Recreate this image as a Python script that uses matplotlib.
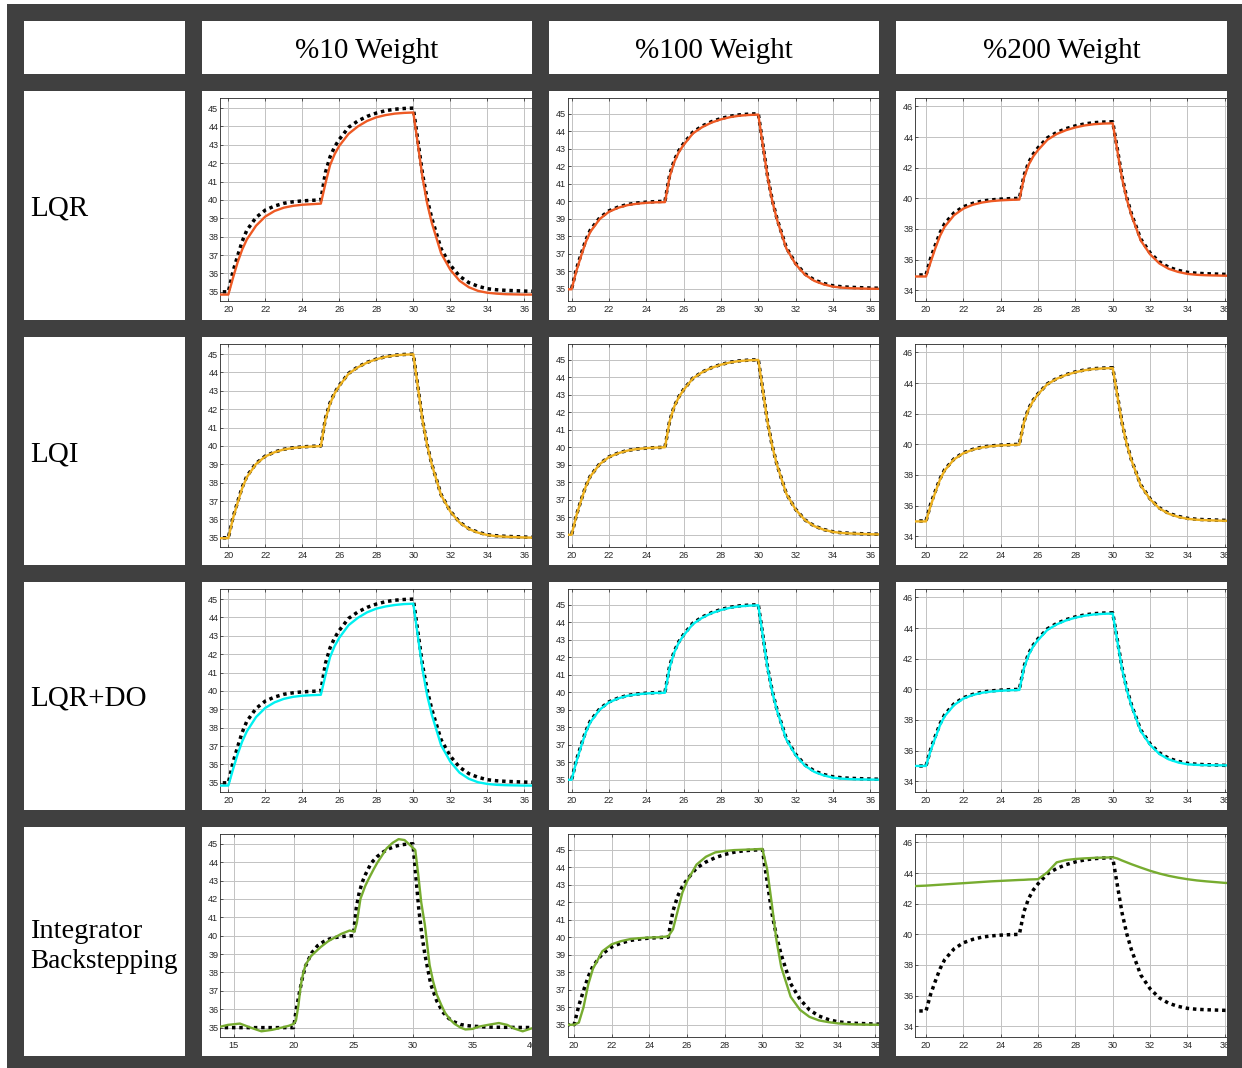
import matplotlib
matplotlib.use("Agg")
import matplotlib.pyplot as plt
from matplotlib.patches import Rectangle

# ---------------- data ----------------
col_titles = ["%10 Weight", "%100 Weight", "%200 Weight"]
row_titles = ["LQR", "LQI", "LQR+DO", "Integrator\nBackstepping"]

# common time base (s)
t = [13.0, 19.0, 20.0,
     20.25, 20.5, 20.75, 21.0, 21.5, 22.0, 22.5, 23.0, 23.5, 24.0, 24.5, 25.0,
     25.25, 25.5, 25.75, 26.0, 26.5, 27.0, 27.5, 28.0, 28.5, 29.0, 29.5, 30.0,
     30.25, 30.5, 30.75, 31.0, 31.5, 32.0, 32.5, 33.0, 33.5, 34.0, 34.5, 35.0, 36.0, 37.0,
     41.0]

# reference temperature (black dotted)
ref = [35.0, 35.0, 35.0,
       36.1, 36.95, 37.75, 38.35, 39.05, 39.45, 39.67, 39.82, 39.9, 39.95, 39.98, 40.0,
       41.5, 42.35, 42.9, 43.3, 43.95, 44.3, 44.55, 44.73, 44.86, 44.94, 44.98, 45.0,
       43.2, 41.4, 40.05, 39.0, 37.35, 36.45, 35.85, 35.5, 35.3, 35.17, 35.11, 35.08, 35.04, 35.02,
       35.0]

lqr_10 = [34.85, 34.85, 34.85,
          35.75, 36.6, 37.3, 37.85, 38.6, 39.1, 39.4, 39.58, 39.68, 39.74, 39.77, 39.8,
          40.9, 41.9, 42.5, 42.95, 43.6, 44.0, 44.3, 44.5, 44.62, 44.7, 44.74, 44.76,
          43.0, 41.2, 39.8, 38.75, 37.1, 36.2, 35.6, 35.25, 35.05, 34.95, 34.9, 34.87, 34.85, 34.85,
          34.85]
lqr_100 = [34.97, 34.97, 34.97,
           36.0, 36.85, 37.65, 38.25, 38.98, 39.4, 39.63, 39.78, 39.86, 39.91, 39.94, 39.95,
           41.4, 42.25, 42.82, 43.22, 43.88, 44.24, 44.5, 44.68, 44.81, 44.89, 44.93, 44.95,
           43.15, 41.35, 40.0, 38.95, 37.3, 36.4, 35.8, 35.45, 35.25, 35.12, 35.06, 35.03, 35.0, 34.99,
           34.99]
lqr_200 = [34.9, 34.9, 34.9,
           35.85, 36.75, 37.55, 38.15, 38.9, 39.33, 39.58, 39.73, 39.82, 39.87, 39.9, 39.92,
           41.35, 42.2, 42.75, 43.15, 43.82, 44.2, 44.45, 44.63, 44.76, 44.84, 44.88, 44.9,
           43.1, 41.3, 39.95, 38.9, 37.25, 36.35, 35.75, 35.4, 35.2, 35.07, 35.01, 34.98, 34.95, 34.94,
           34.93]

lqi_10 = [34.98, 34.98, 34.98,
          36.05, 36.9, 37.7, 38.3, 39.02, 39.43, 39.66, 39.81, 39.89, 39.94, 39.97, 39.99,
          41.45, 42.3, 42.87, 43.27, 43.93, 44.28, 44.54, 44.72, 44.85, 44.93, 44.97, 44.99,
          43.18, 41.38, 40.03, 38.98, 37.33, 36.43, 35.83, 35.48, 35.28, 35.15, 35.09, 35.06, 35.02, 35.0,
          35.0]
lqi_100 = [35.0, 35.0, 35.0,
           36.08, 36.93, 37.73, 38.33, 39.03, 39.44, 39.66, 39.81, 39.9, 39.95, 39.98, 40.0,
           41.48, 42.33, 42.88, 43.28, 43.94, 44.29, 44.54, 44.72, 44.85, 44.93, 44.97, 44.99,
           43.19, 41.39, 40.04, 38.99, 37.34, 36.44, 35.84, 35.49, 35.29, 35.16, 35.1, 35.07, 35.03, 35.01,
           35.0]
lqi_200 = [34.97, 34.97, 34.97,
           36.0, 36.88, 37.7, 38.3, 39.02, 39.42, 39.65, 39.8, 39.88, 39.93, 39.96, 39.98,
           41.45, 42.3, 42.86, 43.27, 43.93, 44.28, 44.53, 44.71, 44.84, 44.92, 44.96, 44.98,
           43.17, 41.37, 40.02, 38.97, 37.32, 36.42, 35.82, 35.47, 35.27, 35.14, 35.08, 35.05, 35.01, 34.99,
           34.98]

do_10 = [34.85, 34.85, 34.85,
         35.72, 36.55, 37.25, 37.8, 38.58, 39.08, 39.38, 39.57, 39.68, 39.74, 39.77, 39.79,
         40.85, 41.85, 42.45, 42.9, 43.58, 43.98, 44.28, 44.48, 44.6, 44.68, 44.73, 44.75,
         42.95, 41.15, 39.75, 38.7, 37.05, 36.15, 35.55, 35.22, 35.03, 34.94, 34.89, 34.87, 34.85, 34.85,
         34.85]
do_100 = [35.0, 35.0, 35.0,
          36.02, 36.88, 37.68, 38.28, 39.0, 39.42, 39.65, 39.8, 39.88, 39.93, 39.96, 39.97,
          41.42, 42.28, 42.85, 43.25, 43.9, 44.26, 44.52, 44.7, 44.83, 44.91, 44.95, 44.97,
          43.15, 41.35, 40.0, 38.95, 37.3, 36.4, 35.8, 35.45, 35.25, 35.12, 35.06, 35.03, 35.01, 35.0,
          35.0]
do_200 = [35.0, 35.0, 35.0,
          36.0, 36.85, 37.65, 38.25, 38.97, 39.4, 39.63, 39.78, 39.86, 39.91, 39.94, 39.96,
          41.4, 42.25, 42.82, 43.22, 43.88, 44.24, 44.5, 44.68, 44.81, 44.89, 44.93, 44.95,
          43.13, 41.33, 39.98, 38.93, 37.28, 36.38, 35.78, 35.43, 35.23, 35.11, 35.07, 35.05, 35.04, 35.03,
          35.03]

ib_100 = [35.0, 35.0, 35.0,
          35.12, 36.0, 37.3, 38.2, 39.2, 39.6, 39.78, 39.9, 39.95, 39.98, 40.0, 40.05,
          40.45, 41.5, 42.55, 43.2, 44.15, 44.6, 44.85, 44.93, 44.98, 45.0, 45.02, 45.05,
          43.9, 41.9, 39.8, 38.3, 36.6, 35.85, 35.45, 35.25, 35.15, 35.08, 35.04, 35.02, 35.0, 35.0,
          35.0]
ib_200 = [43.1, 43.13, 43.18,
          43.2, 43.22, 43.24, 43.26, 43.3, 43.34, 43.38, 43.42, 43.46, 43.49, 43.52, 43.55,
          43.56, 43.58, 43.59, 43.6, 44.05, 44.7, 44.85, 44.92, 44.96, 44.99, 45.01, 45.03,
          44.95, 44.82, 44.7, 44.58, 44.36, 44.15, 43.97, 43.82, 43.7, 43.6, 43.52, 43.46, 43.36, 43.3,
          43.2]

# integrator backstepping, 10 % weight: own time base
t_ib10 = [13.0, 13.8, 14.5, 15.5, 16.4, 17.3, 18.2, 19.0, 19.6, 20.0, 20.2, 20.4, 20.6, 20.8,
          21.0, 21.4, 21.8, 22.3, 22.9, 23.5, 24.0, 24.7, 25.1, 25.3, 25.6, 26.0, 26.3, 26.7,
          27.0, 27.4, 27.8, 28.3, 28.8, 29.3, 29.8, 30.2, 30.45, 30.7, 31.0, 31.4, 31.7, 32.0,
          32.4, 32.7, 33.1, 33.5, 34.0, 34.4, 35.0, 35.5, 36.3, 37.2, 37.9, 38.5, 39.2, 39.9, 41.0]
ib_10 = [34.98, 35.04, 35.15, 35.22, 35.0, 34.8, 34.88, 35.0, 35.1, 35.2, 35.4, 36.2, 37.3, 37.95,
         38.4, 38.85, 39.1, 39.4, 39.7, 39.92, 40.1, 40.28, 40.22, 40.7, 42.0, 42.7, 43.1, 43.6,
         43.95, 44.35, 44.75, 45.05, 45.25, 45.2, 44.9, 44.65, 43.3, 41.8, 40.6, 38.4, 37.5, 36.8,
         36.2, 35.8, 35.45, 35.2, 35.0, 34.9, 34.93, 35.05, 35.15, 35.25, 35.15, 34.95, 34.8, 34.95, 35.1]

xticks_main = [20, 22, 24, 26, 28, 30, 32, 34, 36]
xticks_ib10 = [15, 20, 25, 30, 35, 40]
yticks_fine = [35, 36, 37, 38, 39, 40, 41, 42, 43, 44, 45]
yticks_coarse = [34, 36, 38, 40, 42, 44, 46]

# ---------------- layout / style ----------------
W, H = 1242, 1068
DARK = "#404040"
C_LQR, C_LQI, C_DO, C_IB = "#EE5A24", "#EDB120", "#00F0F0", "#77AC30"

plt.rcParams["font.family"] = ["Liberation Sans", "DejaVu Sans"]

fig = plt.figure(figsize=(W / 100, H / 100), dpi=100)
fig.patch.set_facecolor("white")

col_l = [202, 549, 896]
col_r = [532, 879, 1227]
row_t = [91, 337, 582, 827]
row_b = [320, 565, 810, 1056]


def px_axes(x0, y0, x1, y1, **kw):
    return fig.add_axes([x0 / W, 1 - y1 / H, (x1 - x0) / W, (y1 - y0) / H], **kw)


# (row, col): time, response, colour, xmin, px-per-unit, ylim, xticks, yticks
panels = {
    (0, 0): (t, lqr_10, C_LQR, 19.55, 18.5, (34.5, 45.55), xticks_main, yticks_fine),
    (0, 1): (t, lqr_100, C_LQR, 19.79, 18.67, (34.3, 45.9), xticks_main, yticks_fine),
    (0, 2): (t, lqr_200, C_LQR, 19.41, 18.67, (33.3, 46.55), xticks_main, yticks_coarse),
    (1, 0): (t, lqi_10, C_LQI, 19.55, 18.5, (34.5, 45.55), xticks_main, yticks_fine),
    (1, 1): (t, lqi_100, C_LQI, 19.79, 18.67, (34.3, 45.9), xticks_main, yticks_fine),
    (1, 2): (t, lqi_200, C_LQI, 19.41, 18.67, (33.3, 46.55), xticks_main, yticks_coarse),
    (2, 0): (t, do_10, C_DO, 19.55, 18.5, (34.5, 45.55), xticks_main, yticks_fine),
    (2, 1): (t, do_100, C_DO, 19.79, 18.67, (34.3, 45.9), xticks_main, yticks_fine),
    (2, 2): (t, do_200, C_DO, 19.41, 18.67, (33.3, 46.55), xticks_main, yticks_coarse),
    (3, 0): (t_ib10, ib_10, C_IB, 13.83, 11.93, (34.49, 45.53), xticks_ib10, yticks_fine),
    (3, 1): (t, ib_100, C_IB, 19.66, 18.83, (34.3, 45.9), xticks_main, yticks_fine),
    (3, 2): (t, ib_200, C_IB, 19.41, 18.67, (33.3, 46.55), xticks_main, yticks_coarse),
}

left_off = [18.0, 18.7, 19.0]
for (r, c), (tt, yy, colr, xmin, scale, ylim, xt, yt) in panels.items():
    x0 = col_l[c] + left_off[c]
    x1 = col_r[c] + 8
    y0 = row_t[r] + 7
    y1 = row_t[r] + 210
    ax = px_axes(x0, y0, x1, y1)
    ax.plot(t, ref, color="black", lw=2.5, ls=(0, (1, 1.1)), dash_capstyle="butt", zorder=2)
    ax.plot(tt, yy, color=colr, lw=1.7, zorder=3, solid_joinstyle="round")
    ax.set_xlim(xmin, xmin + (x1 - x0) / scale)
    ax.set_ylim(*ylim)
    ax.set_xticks(xt)
    ax.set_yticks(yt)
    ax.grid(True, color="#c2c2c2", lw=0.7)
    ax.set_axisbelow(True)
    ax.tick_params(direction="in", length=2.5, width=0.5, colors="#262626",
                   labelsize=6.6, top=True, right=False)
    ax.tick_params(axis="y", pad=1.2)
    ax.tick_params(axis="x", pad=3.0)
    for s in ax.spines.values():
        s.set_color("#262626")
        s.set_linewidth(0.6)

# ---------------- table frame overlay ----------------
ov = fig.add_axes([0, 0, 1, 1], zorder=10)
ov.set_xlim(0, W)
ov.set_ylim(H, 0)
ov.axis("off")
ov.patch.set_visible(False)

for xa, xb in [(7, 24), (185, 202), (532, 549), (879, 896), (1227, W)]:
    ov.add_patch(Rectangle((xa, 4), xb - xa, H - 4, facecolor=DARK, edgecolor="none"))
for ya, yb in [(4, 21), (74, 91), (320, 337), (565, 582), (810, 827), (1056, H)]:
    ov.add_patch(Rectangle((7, ya), W - 7, yb - ya, facecolor=DARK, edgecolor="none"))

serif = ["Liberation Serif", "DejaVu Serif"]
for c, title in enumerate(col_titles):
    ov.text((col_l[c] + col_r[c]) / 2, 58, title, ha="center", va="baseline",
            fontsize=21, family=serif, color="black")

for r, label in enumerate(row_titles):
    cy = (row_t[r] + row_b[r]) / 2
    lines = label.split("\n")
    if len(lines) == 1:
        ov.text(30, cy + 10, label, ha="left", va="baseline", fontsize=21, family=serif)
    else:
        ov.text(30, 938, lines[0], ha="left", va="baseline", fontsize=20.5, family=serif)
        ov.text(30, 968, lines[1], ha="left", va="baseline", fontsize=19.5, family=serif)

fig.savefig("out.png", dpi=100, facecolor="white")
